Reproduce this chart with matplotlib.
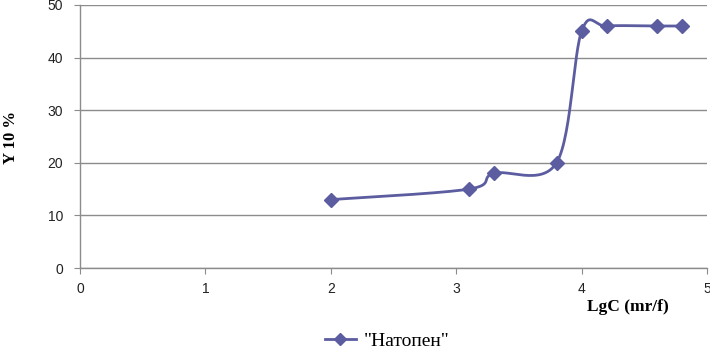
import matplotlib
matplotlib.use('Agg')
import matplotlib.pyplot as plt
import numpy as np

# данные
lgc = [2.0, 3.1, 3.3, 3.8, 4.0, 4.2, 4.6, 4.8]
y10 = [13, 15, 18, 20, 45, 46, 46, 46]
series_name = '"Натопен"'

color = '#5c5ca0'
grid_color = '#8c8c8c'


def excel_smooth(xs, ys, sx, sy, n=30):
    # сглаживание линии как в Excel (Безье по соседним точкам), в пиксельном масштабе
    px = np.array(xs) * sx
    py = np.array(ys) * sy
    pts = np.column_stack([px, py])
    out = []
    for i in range(len(pts) - 1):
        p0 = pts[i - 1] if i > 0 else pts[i]
        p1 = pts[i]
        p2 = pts[i + 1]
        p3 = pts[i + 2] if i + 2 < len(pts) else pts[i + 1]
        c1 = p1 + (p2 - p0) / 6
        c2 = p2 - (p3 - p1) / 6
        t = np.linspace(0, 1, n)[:, None]
        seg = ((1 - t) ** 3) * p1 + 3 * ((1 - t) ** 2) * t * c1 + 3 * (1 - t) * t ** 2 * c2 + t ** 3 * p2
        out.append(seg if i == 0 else seg[1:])
    out = np.vstack(out)
    return out[:, 0] / sx, out[:, 1] / sy


fig = plt.figure(figsize=(7.10, 3.49), dpi=100)
ax = fig.add_axes([0.1127, 0.232, 0.8831, 0.7538])

sx_line, sy_line = excel_smooth(lgc, y10, 125.4, 5.26)
ax.plot(sx_line, sy_line, color=color, lw=2, zorder=3)
ax.plot(lgc, y10, linestyle='none', marker='D', ms=7, color=color, zorder=4)

ax.set_xlim(0, 5)
ax.set_ylim(0, 50)
ax.set_xticks(range(0, 6))
ax.set_yticks(range(0, 51, 10))
ax.yaxis.grid(True, color=grid_color, lw=1)
ax.set_axisbelow(True)

for s in ['top', 'right']:
    ax.spines[s].set_visible(False)
for s in ['left', 'bottom']:
    ax.spines[s].set_color(grid_color)
    ax.spines[s].set_linewidth(1)

ax.tick_params(axis='both', direction='out', length=4, color=grid_color,
               labelsize=10, labelcolor='#222222')
ax.tick_params(axis='x', pad=6)
ax.tick_params(axis='y', pad=8)
for lab in ax.get_xticklabels() + ax.get_yticklabels():
    lab.set_fontfamily('Liberation Sans')

fig.text(0.016, 0.607, 'Y 10 %', rotation=90, ha='center', va='center',
         fontsize=12, fontweight='bold', family='Liberation Serif')
fig.text(0.885, 0.12, 'LgC (mr/f)', ha='center', va='center',
         fontsize=12.5, fontweight='bold', family='Liberation Serif')

# легенда внизу
fig.legend([plt.Line2D([], [], color=color, lw=2, marker='D', ms=6)], [series_name],
           loc='center', bbox_to_anchor=(0.545, 0.023), frameon=False,
           prop={'family': 'Liberation Serif', 'size': 14}, handlelength=1.6,
           handletextpad=0.4, borderpad=0.0)

fig.savefig('out.png', dpi=100)
